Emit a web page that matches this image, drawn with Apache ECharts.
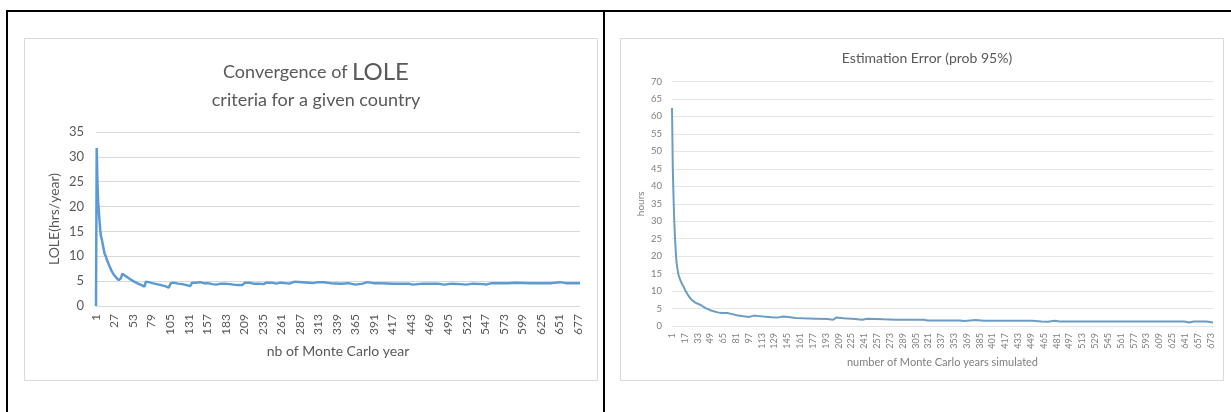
<!DOCTYPE html>
<html>
<head>
<meta charset="utf-8">
<script src="https://cdn.jsdelivr.net/npm/echarts@6/dist/echarts.min.js"></script>
<style>
html,body{margin:0;padding:0;background:#fff;}
#c{width:1231px;height:412px;}
</style>
</head>
<body>
<div id="c"></div>
<script>
// ---- Left chart: Convergence of LOLE ----
const leftYearCount = 680;
const leftYTicks = [0, 5, 10, 15, 20, 25, 30, 35];
// [simulated year, LOLE hrs/year]
const lolePoints = [
  [1,0],[2,31.8],[3,25],[4,21],[5,19],[6,17],[7,15.2],[8,14],[9,13.5],[11,12],[13,10.5],[15,9.9],
  [17,9],[20,8],[23,7],[26,6.3],[30,5.6],[33,5.2],[35,4.9],[36,5.6],[38,6.5],[40,6.2],[44,5.9],
  [48,5.5],[52,5.1],[56,4.8],[60,4.5],[65,4.2],[69,3.9],[71,4.9],[75,4.8],[80,4.6],[86,4.4],
  [92,4.2],[98,4.0],[103,3.7],[106,4.6],[110,4.7],[116,4.5],[122,4.4],[128,4.2],[133,4.0],
  [136,4.7],[142,4.7],[147,4.8],[152,4.6],[158,4.6],[164,4.4],[170,4.3],[176,4.5],[182,4.5],
  [188,4.4],[194,4.3],[200,4.2],[206,4.2],[210,4.7],[216,4.7],[222,4.5],[230,4.5],[236,4.4],
  [240,4.7],[248,4.7],[254,4.5],[260,4.7],[266,4.6],[272,4.5],[280,4.9],[290,4.8],[300,4.7],
  [306,4.6],[312,4.8],[320,4.8],[330,4.6],[345,4.5],[355,4.6],[365,4.3],[375,4.5],[382,4.8],
  [390,4.6],[400,4.6],[420,4.5],[440,4.5],[445,4.3],[460,4.5],[480,4.5],[490,4.3],[500,4.5],
  [512,4.4],[520,4.3],[530,4.5],[545,4.4],[548,4.3],[556,4.6],[580,4.6],[590,4.7],[610,4.6],
  [640,4.6],[652,4.8],[660,4.6],[680,4.6]
];

// ---- Right chart: Estimation Error (prob 95%) ----
const rightYearCount = 676;
const rightYTicks = [0,5,10,15,20,25,30,35,40,45,50,55,60,65,70];
// [simulated year, error hours]
const errPoints = [
  [1,62.4],[2,45],[3,36],[4,29],[5,24],[6,20],[7,17.6],[8,16],[9,14.8],[10,14],[12,12.8],
  [14,11.8],[16,11],[18,10],[20,9.2],[23,8.2],[26,7.4],[30,6.7],[34,6.3],[38,5.8],[43,5.1],
  [48,4.6],[53,4.2],[58,3.9],[63,3.7],[70,3.7],[76,3.4],[82,3.1],[90,2.8],[97,2.6],[102,2.9],
  [106,2.9],[115,2.7],[125,2.5],[132,2.4],[140,2.7],[146,2.6],[155,2.3],[165,2.2],[180,2.1],
  [195,2.0],[202,1.8],[206,2.4],[215,2.2],[230,2.0],[238,1.8],[245,2.1],[255,2.0],[265,1.9],
  [280,1.8],[300,1.8],[315,1.8],[320,1.6],[340,1.6],[360,1.6],[366,1.4],[380,1.7],[390,1.5],
  [420,1.5],[450,1.5],[462,1.3],[470,1.2],[478,1.5],[485,1.3],[520,1.3],[560,1.3],[600,1.3],
  [640,1.3],[646,1.0],[652,1.3],[668,1.3],[676,1.0]
];

const leftCats = Array.from({length: leftYearCount}, (_, i) => String(i + 1));
const rightCats = Array.from({length: rightYearCount}, (_, i) => String(i + 1));

const FONT = 'Lato';
const chart = echarts.init(document.getElementById('c'), null, {renderer: 'canvas'});

chart.setOption({
  animation: false,
  backgroundColor: '#ffffff',
  textStyle: {fontFamily: FONT},
  graphic: [
    // table borders
    {type: 'rect', shape: {x: 6, y: 10, width: 1225, height: 2}, style: {fill: '#000'}, silent: true},
    {type: 'rect', shape: {x: 6, y: 10, width: 2, height: 402}, style: {fill: '#000'}, silent: true},
    {type: 'rect', shape: {x: 603, y: 10, width: 2, height: 402}, style: {fill: '#000'}, silent: true},
    // chart frames
    {type: 'rect', shape: {x: 24.5, y: 38.5, width: 573, height: 342}, style: {fill: 'none', stroke: '#d9d9d9', lineWidth: 1}, silent: true},
    {type: 'rect', shape: {x: 620.5, y: 38.5, width: 603, height: 342}, style: {fill: 'none', stroke: '#d9d9d9', lineWidth: 1}, silent: true}
  ],
  title: [
    {
      text: '{a|Convergence of }{b|LOLE}',
      left: 311, top: 55, textAlign: 'center',
      textStyle: {fontWeight: 'normal', rich: {
        a: {fontFamily: FONT, fontSize: 18, fontWeight: 'normal', color: '#595959'},
        b: {fontFamily: FONT, fontSize: 24, fontWeight: 'normal', color: '#595959'}
      }}
    },
    {
      text: 'criteria for a given country',
      left: 311, top: 86, textAlign: 'center',
      textStyle: {fontFamily: FONT, fontSize: 18, fontWeight: 'normal', color: '#595959'}
    },
    {
      text: 'Estimation Error (prob 95%)',
      left: 922, top: 46, textAlign: 'center',
      textStyle: {fontFamily: FONT, fontSize: 14, fontWeight: 'normal', color: '#595959'}
    }
  ],
  grid: [
    {left: 96, top: 132, width: 484, height: 174, containLabel: false},
    {left: 672, top: 81.5, width: 541, height: 244.5, containLabel: false}
  ],
  xAxis: [
    {
      type: 'category', gridIndex: 0, data: leftCats, boundaryGap: false,
      axisLine: {show: true, lineStyle: {color: '#d9d9d9', width: 1}},
      axisTick: {show: false},
      axisLabel: {interval: 25, rotate: 90, fontSize: 12, color: '#595959', margin: 8, fontFamily: FONT},
      name: 'nb of Monte Carlo year', nameLocation: 'middle', nameGap: 38,
      nameTextStyle: {fontSize: 14, color: '#595959', fontFamily: FONT}
    },
    {
      type: 'category', gridIndex: 1, data: rightCats, boundaryGap: false,
      axisLine: {show: true, lineStyle: {color: '#e3e3e3', width: 1}},
      axisTick: {show: false},
      axisLabel: {interval: 15, rotate: 90, fontSize: 9, color: '#7f7f7f', margin: 7, fontFamily: FONT},
      name: 'number of Monte Carlo years simulated', nameLocation: 'middle', nameGap: 28,
      nameTextStyle: {fontSize: 11, color: '#7f7f7f', fontFamily: FONT}
    }
  ],
  yAxis: [
    {
      type: 'value', gridIndex: 0, min: leftYTicks[0], max: leftYTicks[leftYTicks.length - 1], interval: 5,
      axisLine: {show: false}, axisTick: {show: false},
      splitLine: {lineStyle: {color: '#d9d9d9', width: 1}},
      axisLabel: {fontSize: 13, color: '#595959', margin: 12, fontFamily: FONT},
      name: 'LOLE(hrs/year)', nameLocation: 'middle', nameRotate: 90, nameGap: 35,
      nameTextStyle: {fontSize: 14, color: '#595959', fontFamily: FONT}
    },
    {
      type: 'value', gridIndex: 1, min: rightYTicks[0], max: rightYTicks[rightYTicks.length - 1], interval: 5,
      axisLine: {show: false}, axisTick: {show: false},
      splitLine: {lineStyle: {color: '#e6e6e6', width: 1}},
      axisLabel: {fontSize: 9.5, color: '#7f7f7f', margin: 10, fontFamily: FONT},
      name: 'hours', nameLocation: 'middle', nameRotate: 90, nameGap: 26,
      nameTextStyle: {fontSize: 10, color: '#7f7f7f', fontFamily: FONT}
    }
  ],
  series: [
    {
      type: 'line', xAxisIndex: 0, yAxisIndex: 0, showSymbol: false, symbol: 'none',
      lineStyle: {color: '#5b9bd5', width: 2.5}, itemStyle: {color: '#5b9bd5'},
      data: lolePoints.map(p => [p[0] - 1, p[1]])
    },
    {
      type: 'line', xAxisIndex: 1, yAxisIndex: 1, showSymbol: false, symbol: 'none',
      lineStyle: {color: '#6d9cc3', width: 2}, itemStyle: {color: '#6d9cc3'},
      data: errPoints.map(p => [p[0] - 1, p[1]])
    }
  ]
});
</script>
</body>
</html>
